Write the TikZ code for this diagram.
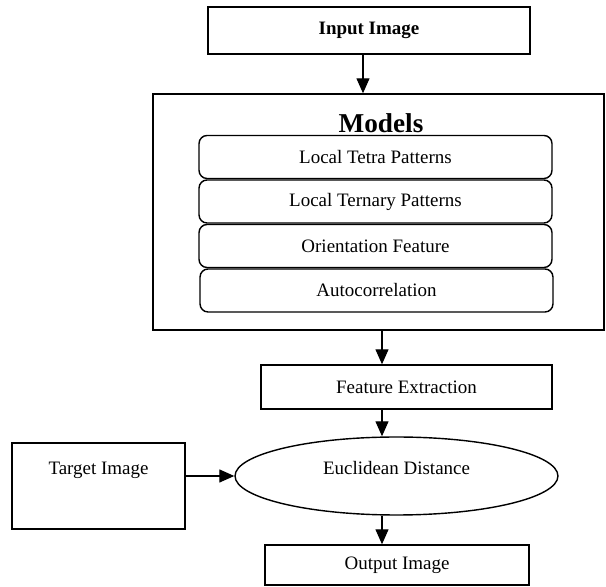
\documentclass[tikz,border=0pt]{standalone}
\usepackage{fontspec}
\setmainfont{Liberation Serif}
\usetikzlibrary{shapes.geometric,arrows.meta}

\begin{document}
\begin{tikzpicture}[x=0.02cm,y=-0.02cm,
    font=\fontsize{10.8}{13}\selectfont,
    box/.style={rectangle,draw,line width=0.8pt,inner sep=0pt},
    model/.style={box,rounded corners=0.16cm,minimum width=7.06cm,minimum height=0.86cm},
    arr/.style={line width=0.7pt,-{Triangle[length=0.3cm,width=0.26cm]}}]
    \useasboundingbox (0,0) rectangle (606,587);
    \node[box,minimum width=6.44cm,minimum height=0.94cm,font=\fontsize{10.8}{13}\selectfont\bfseries] (input) at (369,30.5) {Input Image};
    \node[box,minimum width=9.02cm,minimum height=4.72cm] (models) at (378.5,212) {};
    \node[font=\fontsize{15.5}{18}\selectfont\bfseries] (title) at (381,123) {Models};
    \node[model] (ltetra) at (375.5,157) {Local Tetra Patterns};
    \node[model] (lternary) at (375.5,201.5) {Local Ternary Patterns};
    \node[model] (orient) at (375.5,246) {Orientation Feature};
    \node[model] (autoc) at (376.5,290.5) {Autocorrelation};
    \node[box,minimum width=5.82cm,minimum height=0.88cm] (feature) at (406.5,387) {Feature Extraction};
    \node[ellipse,draw,line width=0.8pt,inner sep=0pt,minimum width=6.46cm,minimum height=1.56cm] (dist) at (396.5,476) {\raisebox{0.32cm}{Euclidean Distance}};
    \node[box,minimum width=3.46cm,minimum height=1.72cm] (target) at (98.5,486) {\raisebox{0.72cm}{Target Image}};
    \node[box,minimum width=5.28cm,minimum height=0.8cm] (output) at (397,565) {Output Image};
    \coordinate (a1) at (363,0);
    \coordinate (a2) at (382,0);
    \draw[arr] (input.south -| a1) -- (models.north -| a1);
    \draw[arr] (models.south -| a2) -- (feature.north -| a2);
    \draw[arr] (feature.south -| a2) -- (dist.north -| a2);
    \draw[arr] (dist.south -| a2) -- (output.north -| a2);
    \draw[arr] (target.east |- dist) -- (dist.west);
\end{tikzpicture}
\end{document}
